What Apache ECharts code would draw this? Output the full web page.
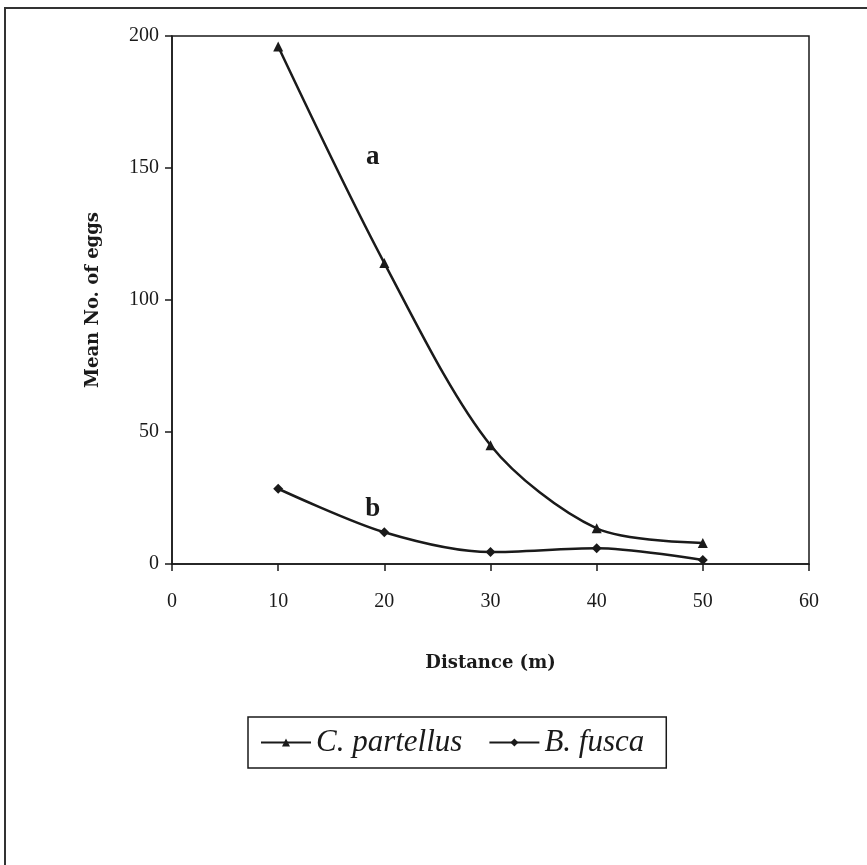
<!DOCTYPE html>
<html>
<head>
<meta charset="utf-8">
<script src="https://cdn.jsdelivr.net/npm/echarts@6/dist/echarts.min.js"></script>
<style>
  html, body { margin: 0; padding: 0; background: #fff; }
  #main { width: 867px; height: 865px; }
</style>
</head>
<body>
<div id="main"></div>
<script>
// distances (m)
var distance = [10, 20, 30, 40, 50];
// mean egg counts
var partellus = [196, 114, 45, 13.5, 8];
var fusca = [28.5, 12, 4.5, 6, 1.5];
var serif = 'Liberation Serif';
var wideSerif = 'DejaVu Serif';
var ink = '#1a1a1a';

function pairs(xs, ys) {
    return xs.map(function (x, i) { return [x, ys[i]]; });
}

var chart = echarts.init(document.getElementById('main'));
var option = {
    backgroundColor: '#fff',
    animation: false,
    grid: {
        left: 172, right: 58, top: 36, bottom: 301,
        show: true, borderColor: ink, borderWidth: 1.5
    },
    graphic: [{
        type: 'rect',
        shape: { x: 5, y: 8, width: 900, height: 900 },
        style: { fill: null, stroke: '#333', lineWidth: 2 },
        silent: true
    }],
    xAxis: {
        type: 'value', min: 0, max: 60, interval: 10,
        name: 'Distance (m)', nameLocation: 'middle', nameGap: 90,
        nameTextStyle: { fontFamily: wideSerif, fontWeight: 'bold', fontSize: 18, color: ink },
        axisLine: { lineStyle: { color: ink, width: 1.5 } },
        axisTick: { show: true, length: 7, lineStyle: { color: ink, width: 1.5 } },
        axisLabel: { fontFamily: serif, fontSize: 20, color: ink, margin: 28 },
        splitLine: { show: false }
    },
    yAxis: {
        type: 'value', min: 0, max: 200, interval: 50,
        name: 'Mean No. of eggs', nameLocation: 'middle', nameGap: 70,
        nameTextStyle: { fontFamily: wideSerif, fontWeight: 'bold', fontSize: 18, color: ink },
        axisLine: { show: true, lineStyle: { color: ink, width: 1.5 } },
        axisTick: { show: true, length: 7, lineStyle: { color: ink, width: 1.5 } },
        axisLabel: { fontFamily: serif, fontSize: 20, color: ink, margin: 13 },
        splitLine: { show: false }
    },
    legend: {
        left: 248, top: 717,
        itemWidth: 50, itemHeight: 10, itemGap: 26,
        padding: [10, 22, 10, 12],
        borderColor: ink, borderWidth: 1.5,
        textStyle: { fontFamily: serif, fontStyle: 'italic', fontSize: 31, color: ink },
        data: ['C. partellus', 'B. fusca']
    },
    series: [{
        name: 'C. partellus',
        type: 'line',
        smooth: 0.3,
        data: pairs(distance, partellus),
        symbol: 'triangle', symbolSize: 10,
        lineStyle: { color: ink, width: 2.5 },
        itemStyle: { color: ink },
        markPoint: {
            symbol: 'circle', symbolSize: 0,
            label: { show: true, formatter: 'a', fontFamily: serif, fontWeight: 'bold', fontSize: 27, color: ink },
            data: [{ coord: [18.9, 154] }]
        }
    }, {
        name: 'B. fusca',
        type: 'line',
        smooth: 0.3,
        data: pairs(distance, fusca),
        symbol: 'diamond', symbolSize: 10,
        lineStyle: { color: ink, width: 2.5 },
        itemStyle: { color: ink },
        markPoint: {
            symbol: 'circle', symbolSize: 0,
            label: { show: true, formatter: 'b', fontFamily: serif, fontWeight: 'bold', fontSize: 27, color: ink },
            data: [{ coord: [18.9, 21] }]
        }
    }]
};
chart.setOption(option);
</script>
</body>
</html>
